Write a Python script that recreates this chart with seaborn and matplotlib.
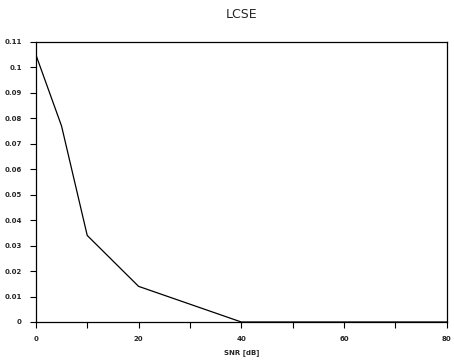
import matplotlib
matplotlib.use("Agg")
import matplotlib.pyplot as plt
import seaborn as sns
import pandas as pd

snr_db = [0, 5, 10, 20, 40, 60, 80]
lcse = [0.105, 0.077, 0.034, 0.014, 0.0, 0.0, 0.0]
x_ticks = [0, 20, 40, 60, 80]
y_ticks = [0, 0.01, 0.02, 0.03, 0.04, 0.05, 0.06, 0.07, 0.08, 0.09, 0.1, 0.11]
y_labels = ["0", "0.01", "0.02", "0.03", "0.04", "0.05", "0.06", "0.07", "0.08", "0.09", "0.1", "0.11"]

sns.set_theme(style="white")
plt.rcParams['font.family'] = ['DejaVu Sans']

df = pd.DataFrame({"snr": snr_db, "lcse": lcse})
fig = plt.figure(figsize=(4.54, 3.62), dpi=100)
ax = fig.add_axes([0.079, 0.1105, 0.905, 0.7735])
sns.lineplot(data=df, x="snr", y="lcse", ax=ax, color="black", linewidth=0.9)

ax.set_xlim(0, 80)
ax.set_ylim(0, 0.11)
ax.set_xticks(x_ticks)
ax.set_xticklabels([str(t) for t in x_ticks], fontsize=5, fontweight="bold")
ax.set_xticks([10, 30, 50, 70], minor=True)
ax.set_yticks(y_ticks)
ax.set_yticklabels(y_labels, fontsize=5, fontweight="bold")
ax.tick_params(axis="both", which="both", direction="out", length=4, width=0.8, color="black", bottom=True, left=True, pad=6)
for s in ax.spines.values():
    s.set_color("black")
    s.set_linewidth(0.9)
ax.set_xlabel("SNR [dB]", fontsize=5, fontweight="bold", labelpad=5)
ax.set_ylabel("")
ax.set_title("LCSE", fontsize=9, pad=17)
fig.savefig("out.png", dpi=100)
